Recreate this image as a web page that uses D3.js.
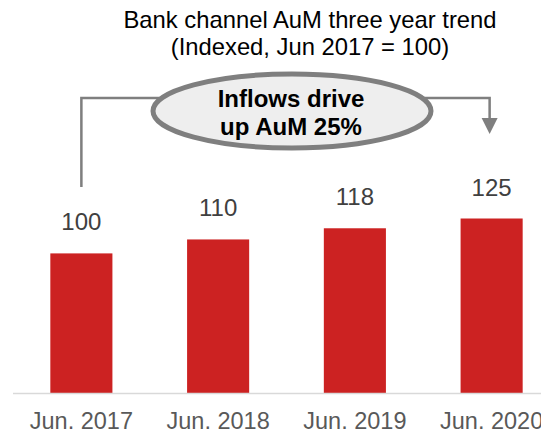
<!DOCTYPE html>
<html>
<head>
<meta charset="utf-8">
<script src="https://cdn.jsdelivr.net/npm/d3@7"></script>
<style>
  html, body { margin: 0; padding: 0; background: #fff; overflow: hidden; }
  svg { display: block; font-family: "Liberation Sans", Arial, sans-serif; }
</style>
</head>
<body>
<svg id="chart"></svg>
<script>
// Data
const categories = ["Jun. 2017", "Jun. 2018", "Jun. 2019", "Jun. 2020"];
const values = [100, 110, 118, 125];
const titleLines = ["Bank channel AuM three year trend", "(Indexed, Jun 2017 = 100)"];
const calloutLines = ["Inflows drive", "up AuM 25%"];

const width = 541;
const height = 432;
const baseline = 393;

const svg = d3.select("#chart")
    .attr("width", width)
    .attr("height", height);

const x = d3.scaleBand()
    .domain(categories)
    .range([13, 560])
    .paddingInner(0.546)
    .paddingOuter(0.273);

const y = d3.scaleLinear()
    .domain([0, 125])
    .range([baseline, 218.5]);

// Title
svg.selectAll("text.title")
    .data(titleLines)
    .join("text")
    .attr("class", "title")
    .attr("x", 310)
    .attr("y", (d, i) => 28 + i * 27)
    .attr("text-anchor", "middle")
    .attr("font-size", 23.8)
    .attr("fill", "#000")
    .text(d => d);

// Bars
svg.selectAll("rect.bar")
    .data(values)
    .join("rect")
    .attr("class", "bar")
    .attr("x", (d, i) => x(categories[i]))
    .attr("y", d => y(d))
    .attr("width", x.bandwidth())
    .attr("height", d => baseline - y(d))
    .attr("fill", "#cc2222");

// Value labels
svg.selectAll("text.value")
    .data(values)
    .join("text")
    .attr("class", "value")
    .attr("x", (d, i) => x(categories[i]) + x.bandwidth() / 2)
    .attr("y", d => y(d) - 23)
    .attr("text-anchor", "middle")
    .attr("font-size", 24)
    .attr("fill", "#404040")
    .text(d => d);

// Axis line
svg.append("line")
    .attr("x1", 13)
    .attr("x2", width)
    .attr("y1", baseline + 0.5)
    .attr("y2", baseline + 0.5)
    .attr("stroke", "#d9d9d9")
    .attr("stroke-width", 1.5);

// Category labels
const xAxis = svg.append("g")
    .attr("transform", `translate(0,${baseline})`)
    .call(d3.axisBottom(x).tickSize(0).tickPadding(0));
xAxis.select(".domain").remove();
xAxis.selectAll("text")
    .attr("dy", null)
    .attr("y", 36)
    .attr("font-size", 23.5)
    .attr("font-family", "Liberation Sans, Arial, sans-serif")
    .attr("fill", "#595959");

// Connector with arrow
const leftX = x(categories[0]) + x.bandwidth() / 2;
const rightX = x(categories[3]) + x.bandwidth() / 2 - 2;
const topY = 98;

svg.append("path")
    .attr("d", `M${leftX},187 V${topY} H${rightX} V120`)
    .attr("fill", "none")
    .attr("stroke", "#7f7f7f")
    .attr("stroke-width", 2.5);

svg.append("path")
    .attr("d", `M${rightX - 8},118 L${rightX + 8},118 L${rightX},134 Z`)
    .attr("fill", "#7f7f7f");

// Callout ellipse
svg.append("ellipse")
    .attr("cx", 292)
    .attr("cy", 111)
    .attr("rx", 139)
    .attr("ry", 37)
    .attr("fill", "#eeeeee")
    .attr("stroke", "#7f7f7f")
    .attr("stroke-width", 5);

svg.selectAll("text.callout")
    .data(calloutLines)
    .join("text")
    .attr("class", "callout")
    .attr("x", 291)
    .attr("y", (d, i) => 107 + i * 28)
    .attr("text-anchor", "middle")
    .attr("font-size", 24)
    .attr("font-weight", "bold")
    .attr("fill", "#000")
    .text(d => d);
</script>
</body>
</html>
